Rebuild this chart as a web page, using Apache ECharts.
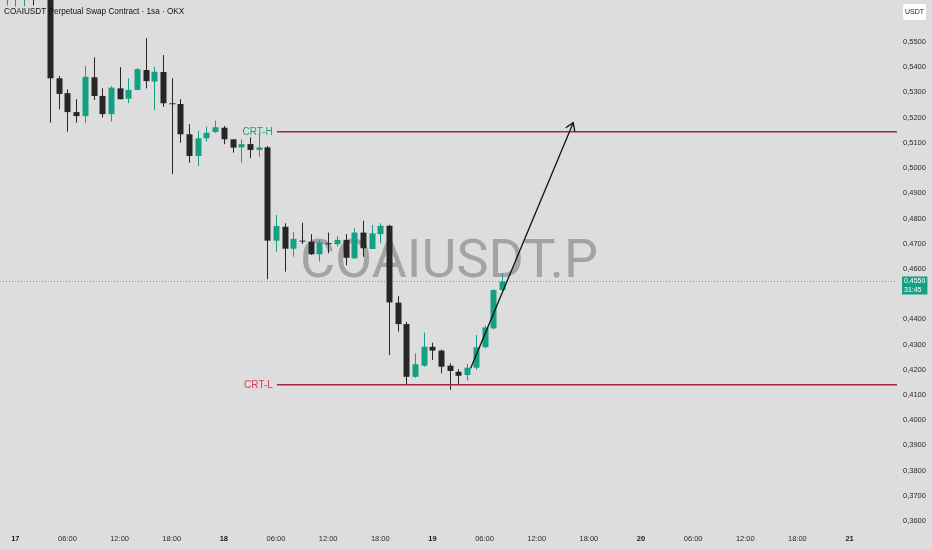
<!DOCTYPE html>
<html>
<head>
<meta charset="utf-8">
<script src="https://cdn.jsdelivr.net/npm/echarts@6/dist/echarts.min.js"></script>
<style>
html,body{margin:0;padding:0;background:#dddddd;}
#chart{width:932px;height:550px;}
</style>
</head>
<body>
<div id="chart"></div>
<script>
// hours since 17th 00:00 (hourly candles, "1sa")
var hours  = [-1,0,1,2,3,4,5,6,7,8,9,10,11,12,13,14,15,16,17,18,19,20,21,22,23,24,25,26,27,28,29,30,31,32,33,34,35,36,37,38,39,40,41,42,43,44,45,46,47,48,49,50,51,52,53,54,55,56];
var opens  = [0.575,0.580,0.585,0.592,0.582,0.577,0.5356,0.5297,0.5222,0.5206,0.5360,0.5286,0.5214,0.5316,0.5275,0.5310,0.5389,0.5343,0.5381,0.5257,0.5254,0.5134,0.5048,0.5118,0.5143,0.5160,0.5114,0.5082,0.5095,0.5072,0.5082,0.4712,0.4767,0.4680,0.4712,0.4708,0.4658,0.4702,0.4698,0.4715,0.4642,0.4744,0.4679,0.4738,0.4771,0.4466,0.4381,0.4172,0.4216,0.4291,0.4276,0.4216,0.4192,0.4179,0.4208,0.4289,0.4364,0.4516];
var closes = [0.585,0.590,0.595,0.582,0.577,0.5356,0.5294,0.5222,0.5206,0.5362,0.5286,0.5214,0.5319,0.5273,0.5310,0.5392,0.5345,0.5382,0.5257,0.5256,0.5134,0.5048,0.5118,0.5140,0.5162,0.5114,0.5081,0.5095,0.5072,0.5082,0.4712,0.4770,0.4680,0.4719,0.4711,0.4658,0.4705,0.4701,0.4715,0.4644,0.4744,0.4682,0.4741,0.4771,0.4467,0.4381,0.4172,0.4222,0.4291,0.4276,0.4212,0.4195,0.4176,0.4208,0.4289,0.4368,0.4516,0.4550];
var lows   = [0.5645,0.5640,0.5642,0.5645,0.5720,0.5180,0.5233,0.5144,0.5180,0.5178,0.5270,0.5201,0.5184,0.5273,0.5257,0.5310,0.5316,0.5230,0.5243,0.4976,0.5100,0.5021,0.5008,0.5105,0.5138,0.5095,0.5061,0.5021,0.5039,0.5045,0.4559,0.4668,0.4589,0.4648,0.4699,0.4655,0.4629,0.4662,0.4688,0.4615,0.4640,0.4648,0.4679,0.4702,0.4258,0.4351,0.4139,0.4168,0.4212,0.4239,0.4186,0.4120,0.4143,0.4157,0.4200,0.4285,0.4360,0.4510];
var highs  = [0.590,0.595,0.600,0.597,0.586,0.579,0.5365,0.5312,0.5273,0.5405,0.5439,0.5316,0.5325,0.5400,0.5356,0.5397,0.5515,0.5402,0.5448,0.5356,0.5273,0.5174,0.5148,0.5164,0.5188,0.5167,0.5114,0.5114,0.5122,0.5138,0.5087,0.4814,0.4781,0.4746,0.4783,0.4738,0.4715,0.4744,0.4730,0.4738,0.4761,0.4791,0.4774,0.4781,0.4775,0.4492,0.4390,0.4265,0.4347,0.4307,0.4280,0.4225,0.4202,0.4223,0.4338,0.4375,0.4520,0.4583];

var lastPrice = 0.4550;
var countdown = '31:45';
var crtHigh = 0.5144;
var crtLow = 0.4140;
var crtStartHour = 30.1;
var arrowFrom = [52.4, 0.4206];
var arrowTo = [64.2, 0.5180];

var xTickHours = [0,6,12,18,24,30,36,42,48,54,60,66,72,78,84,90,96];
var firstDay = 17;
var yTicks = [0.36,0.37,0.38,0.39,0.40,0.41,0.42,0.43,0.44,0.46,0.47,0.48,0.49,0.50,0.51,0.52,0.53,0.54,0.55];

var titleText = 'COAIUSDT Perpetual Swap Contract · 1sa · OKX';
var watermark = 'COAIUSDT.P';
var quote = 'USDT';

var GREEN = '#14a085';
var DARK = '#262626';
var CRT_LINE = '#a3263c';
var FONT = 'Liberation Sans, Arial, sans-serif';

var candleData = hours.map(function(h,i){ return [h, opens[i], closes[i], lows[i], highs[i]]; });

var X_MIN = -1.761, X_MAX = 101.46;

var chart = echarts.init(document.getElementById('chart'));

function renderCandle(params, api){
  var h = api.value(0), o = api.value(1), c = api.value(2), l = api.value(3), hi = api.value(4);
  var pO = api.coord([h,o]), pC = api.coord([h,c]), pL = api.coord([h,l]), pH = api.coord([h,hi]);
  var w = Math.round(api.size([1,0])[0]*0.72);
  var color = c > o ? GREEN : DARK;
  var x = Math.round(pO[0]) + 0.5;
  var top = Math.min(pO[1], pC[1]);
  var bh = Math.max(1, Math.abs(pO[1]-pC[1]));
  return {type:'group', children:[
    {type:'line', shape:{x1:x,y1:pH[1],x2:x,y2:pL[1]}, style:{stroke:color,lineWidth:1}},
    {type:'rect', shape:{x:x-w/2,y:top,width:w,height:bh}, style:{fill:color}}
  ]};
}

function renderArrow(params, api){
  var a = api.coord([api.value(0), api.value(1)]);
  var b = api.coord([api.value(2), api.value(3)]);
  var ang = Math.atan2(b[1]-a[1], b[0]-a[0]);
  var L = 9, sp = Math.PI/5.5;
  var h1 = [b[0]-L*Math.cos(ang-sp), b[1]-L*Math.sin(ang-sp)];
  var h2 = [b[0]-L*Math.cos(ang+sp), b[1]-L*Math.sin(ang+sp)];
  return {type:'group', children:[
    {type:'line', shape:{x1:a[0],y1:a[1],x2:b[0],y2:b[1]}, style:{stroke:'#111',lineWidth:1.3}},
    {type:'polyline', shape:{points:[h1,b,h2]}, style:{stroke:'#111',lineWidth:1.3,fill:null}}
  ]};
}

function crtSeries(name, price, color){
  return {
    type:'line', name:name, z:3, symbol:'circle', symbolSize:0.1, showSymbol:true, silent:true,
    itemStyle:{color:'rgba(0,0,0,0)'},
    lineStyle:{color:CRT_LINE, width:1.5},
    data:[
      {value:[crtStartHour, price], label:{show:true, position:'left', distance:4, formatter:name, color:color, fontSize:10, fontFamily:FONT}},
      {value:[X_MAX, price], label:{show:false}}
    ]
  };
}

var option = {
  backgroundColor:'#dddddd',
  animation:false,
  grid:{left:0, right:35, top:0, bottom:29},
  xAxis:{
    type:'value', min:X_MIN, max:X_MAX,
    splitLine:{show:false}, axisLine:{show:false}, axisTick:{show:false},
    axisLabel:{
      customValues:xTickHours, margin:14, fontSize:7.5, color:'#2a2a2a', fontFamily:FONT,
      formatter:function(v){
        var h = Math.round(v);
        if (h % 24 === 0) return '{d|' + (firstDay + h/24) + '}';
        var hh = h % 24; return (hh<10?'0':'') + hh + ':00';
      },
      rich:{d:{fontSize:7.5, fontWeight:'bold', color:'#1a1a1a', fontFamily:FONT}}
    }
  },
  yAxis:{
    type:'value', position:'right', min:0.36, max:0.56666,
    splitLine:{show:false}, axisLine:{show:false}, axisTick:{show:false},
    axisLabel:{
      customValues:yTicks, margin:6, fontSize:7.5, color:'#2a2a2a', fontFamily:FONT,
      formatter:function(v){ return v.toFixed(4).replace('.', ','); }
    }
  },
  graphic:[
    {type:'text', z:-10, x:449, y:263,
     style:{text:watermark, font:'54px Roboto, sans-serif', fill:'rgba(125,125,125,0.6)', textAlign:'center', textVerticalAlign:'middle'}},
    {type:'text', z:100, x:4, y:6, scaleX:0.86,
     style:{text:titleText, font:'9.5px ' + FONT, fill:'#111'}},
    {type:'rect', z:100, shape:{x:903, y:4, width:23, height:16, r:2}, style:{fill:'#ffffff'}},
    {type:'text', z:101, x:914.5, y:12,
     style:{text:quote, font:'7px ' + FONT, fill:'#222', textAlign:'center', textVerticalAlign:'middle'}}
  ],
  series:[
    {
      type:'line', name:'last', symbol:'none', z:1, silent:true,
      lineStyle:{color:'#8e8e8e', type:[1,2], width:1},
      data:[[X_MIN, lastPrice],[X_MAX, lastPrice]],
      endLabel:{show:true, distance:5, offset:[0,4], formatter:lastPrice.toFixed(4).replace('.',',') + '\n' + countdown,
               backgroundColor:GREEN, color:'#fff', fontSize:7, lineHeight:8.5, padding:[1,2,0,2], fontFamily:FONT}
    },
    {type:'custom', name:'candles', renderItem:renderCandle, data:candleData, clip:true, z:2,
     encode:{x:0, y:[1,2,3,4]}},
    crtSeries('CRT-H', crtHigh, '#1d9e86'),
    crtSeries('CRT-L', crtLow, '#e0384f'),
    {type:'custom', name:'arrow', renderItem:renderArrow, z:4,
     data:[[arrowFrom[0], arrowFrom[1], arrowTo[0], arrowTo[1]]], encode:{x:[0,2], y:[1,3]}}
  ]
};
chart.setOption(option);
</script>
</body>
</html>
